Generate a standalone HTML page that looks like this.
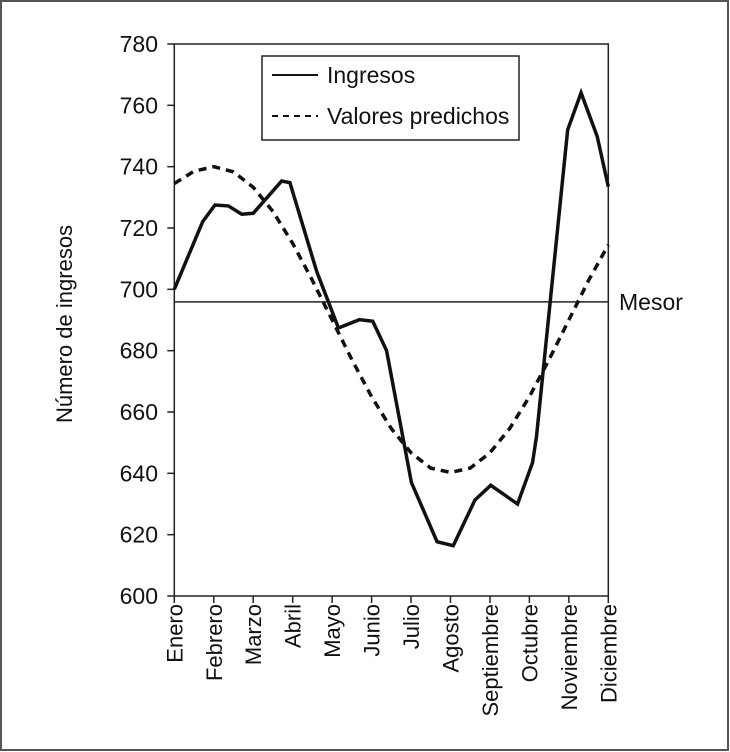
<!DOCTYPE html>
<html><head><meta charset="utf-8"><style>
html,body{margin:0;padding:0;background:#fff;}
svg{display:block;font-family:"Liberation Sans Narrow","Liberation Sans",sans-serif;}
</style></head><body>
<svg id="chart" width="730" height="752">
<rect x="1" y="1" width="727" height="749" fill="#fff" stroke="#555" stroke-width="2"/>
<g id="g"></g>
</svg>
<script>
const months = ["Enero","Febrero","Marzo","Abril","Mayo","Junio","Julio","Agosto","Septiembre","Octubre","Noviembre","Diciembre"];
const yTicks = [600,620,640,660,680,700,720,740,760,780];
const obsMonths = [0,0.72,1.03,1.37,1.71,2.0,2.72,2.93,3.61,4.16,4.69,5.03,5.38,6.01,6.66,7.07,7.62,8.02,8.70,9.08,9.18,9.97,10.31,10.72,11];
const obsValues = [700,722.1,727.5,727.2,724.5,724.8,735.3,734.8,705.8,687.4,690.1,689.6,680,637,617.7,616.4,631.3,636.1,630,643.5,652,752,764.1,749.8,733.5];
const predMonths = [0,0.5,1,1.5,2,2.5,3,3.5,4,4.5,5,5.5,6,6.5,7,7.5,8,8.5,9,9.5,10,10.5,11];
const predValues = [734.5,738.5,740,738.3,733.3,725.4,715,702.9,690,677.1,665,654.6,646.7,641.7,640.3,641.7,646.7,654.6,665,677.1,690,702.9,714.5];
const mesor = 695.9;

const X0=174.3, X1=608.3, Y0=596, Y1=44;
const xs = m => X0 + (X1-X0)*m/11;
const ys = v => Y0 - (Y0-Y1)*(v-600)/180;
const NS="http://www.w3.org/2000/svg";
const g=document.getElementById('g');
function mk(t,a,txt){const e=document.createElementNS(NS,t);for(const k in a)e.setAttribute(k,a[k]);if(txt!==undefined)e.textContent=txt;g.appendChild(e);return e;}

let e=mk('rect',{x:X0,y:Y1,width:X1-X0,height:Y0-Y1,fill:'none',stroke:'#222','stroke-width':1.5});



yTicks.forEach(v=>{
  let t=mk('line',{x1:X0-7,x2:X0,y1:ys(v),y2:ys(v),stroke:'#222','stroke-width':1.5});
  
  
  let l=mk('text',{x:158,y:ys(v)+8,'text-anchor':'end','font-size':23,fill:'#111'},String(v));
  
  
});
months.forEach((m,i)=>{
  const x=xs(i);
  let t=mk('line',{x1:x,x2:x,y1:Y0,y2:Y0+7,stroke:'#222','stroke-width':1.5});
  
  
  let l=mk('text',{x:0,y:0,'text-anchor':'end','font-size':22,fill:'#111',transform:`translate(${x+8},${Y0+8}) rotate(-90)`},m);
  
  
});
let yt=mk('text',{x:0,y:0,'text-anchor':'middle','font-size':22,fill:'#111',transform:'translate(72,324) rotate(-90)'},'Número de ingresos');



let ml=mk('line',{x1:X0,x2:X1,y1:ys(mesor),y2:ys(mesor),stroke:'#222','stroke-width':1.5});


let mt=mk('text',{x:619,y:ys(mesor)+8,'font-size':23,fill:'#111'},'Mesor');



let pd=mk('polyline',{points:predMonths.map((m,i)=>xs(m)+','+ys(predValues[i])).join(' '),fill:'none',stroke:'#111','stroke-width':3.5,'stroke-dasharray':'8,6'});


let ob=mk('polyline',{points:obsMonths.map((m,i)=>xs(m)+','+ys(obsValues[i])).join(' '),fill:'none',stroke:'#111','stroke-width':3.5,'stroke-linejoin':'miter'});



let lg=mk('rect',{x:262,y:56,width:257,height:84,fill:'#fff',stroke:'#222','stroke-width':1.5});


let l1=mk('line',{x1:272,x2:318,y1:75,y2:75,stroke:'#111','stroke-width':2});


let t1=mk('text',{x:327,y:83,'font-size':23,fill:'#111'},'Ingresos');


let l2=mk('line',{x1:272,x2:318,y1:116,y2:116,stroke:'#111','stroke-width':2,'stroke-dasharray':'6,5'});


let t2=mk('text',{x:327,y:124,'font-size':23,fill:'#111'},'Valores predichos');


</script>
</body></html>
